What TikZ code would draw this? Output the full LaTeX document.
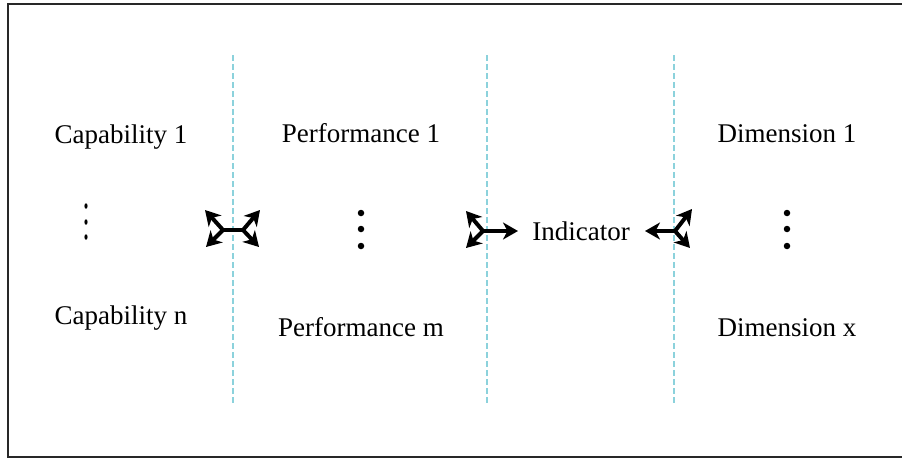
\documentclass[tikz,border=0pt]{standalone}
\usepackage{fontspec}
\setmainfont{Liberation Serif}
\usetikzlibrary{arrows.meta,shapes.geometric}
\definecolor{dividercol}{RGB}{140,210,220}
\definecolor{framecol}{RGB}{40,40,40}
\begin{document}
\begin{tikzpicture}[x=1pt,y=-1pt,
  lbl/.style={font=\fontsize{27}{31}\selectfont, inner sep=0pt, anchor=base},
  divider/.style={draw=dividercol, line width=2.2pt, dash pattern=on 6pt off 3pt},
  link/.style={line width=4pt, line cap=round, -{Stealth[length=15pt,width=17pt,inset=4.5pt]}},
  bar/.style={line width=4pt, line cap=round},
  bigdot/.style={circle, fill=black, inner sep=0pt, minimum size=6.5pt},
  smalldot/.style={ellipse, fill=black, inner sep=0pt, minimum width=3.2pt, minimum height=5.5pt}
]
\useasboundingbox (0,0) rectangle (902,458);
% frame, open on the right
\draw[line width=2pt, framecol] (902,3.5) -- (7.5,3.5) -- (7.5,456.5) -- (902,456.5);

% column dividers
\draw[divider] (233,55) -- (233,405);
\draw[divider] (487,55) -- (487,405);
\draw[divider] (674,55) -- (674,405);

% capabilities
\node[lbl] (cap1) at (121,143) {Capability 1};
\node[lbl] (capn) at (121,324) {Capability n};
\node[smalldot] (cd1) at (86,206) {};
\node[smalldot] (cd2) at (86,222) {};
\node[smalldot] (cd3) at (86,237) {};

% performances
\node[lbl] (perf1) at (361,142) {Performance 1};
\node[lbl] (perfm) at (361,336) {Performance m};
\node[bigdot] (pd1) at (361,213) {};
\node[bigdot] (pd2) at (361,229) {};
\node[bigdot] (pd3) at (361,246) {};

% indicator
\node[lbl] (ind) at (581,240) {Indicator};

% dimensions
\node[lbl] (dim1) at (787,142) {Dimension 1};
\node[lbl] (dimx) at (787,336) {Dimension x};
\node[bigdot] (dd1) at (787,213) {};
\node[bigdot] (dd2) at (787,229) {};
\node[bigdot] (dd3) at (787,246) {};

% four-way link between capabilities and performances
\coordinate (jl) at (223,230);
\coordinate (jr) at (243,230);
\coordinate (tul) at (205,210);
\coordinate (tdl) at (206,247);
\coordinate (tur) at (260,210);
\coordinate (tdr) at (259,247);
\draw[bar] (jl) -- (jr);
\draw[link] (jl) -- (tul);
\draw[link] (jl) -- (tdl);
\draw[link] (jr) -- (tur);
\draw[link] (jr) -- (tdr);

% three-way link between performances and indicator
\coordinate (ja) at (483,231);
\coordinate (ta1) at (466,211);
\coordinate (ta2) at (466,248);
\coordinate (ta3) at (518,231);
\draw[link] (ja) -- (ta1);
\draw[link] (ja) -- (ta2);
\draw[link] (ja) -- (ta3);

% three-way link between indicator and dimensions
\coordinate (jb) at (675,231);
\coordinate (tb1) at (692,209);
\coordinate (tb2) at (690,248);
\coordinate (tb3) at (645,231);
\draw[link] (jb) -- (tb1);
\draw[link] (jb) -- (tb2);
\draw[link] (jb) -- (tb3);
\end{tikzpicture}
\end{document}
